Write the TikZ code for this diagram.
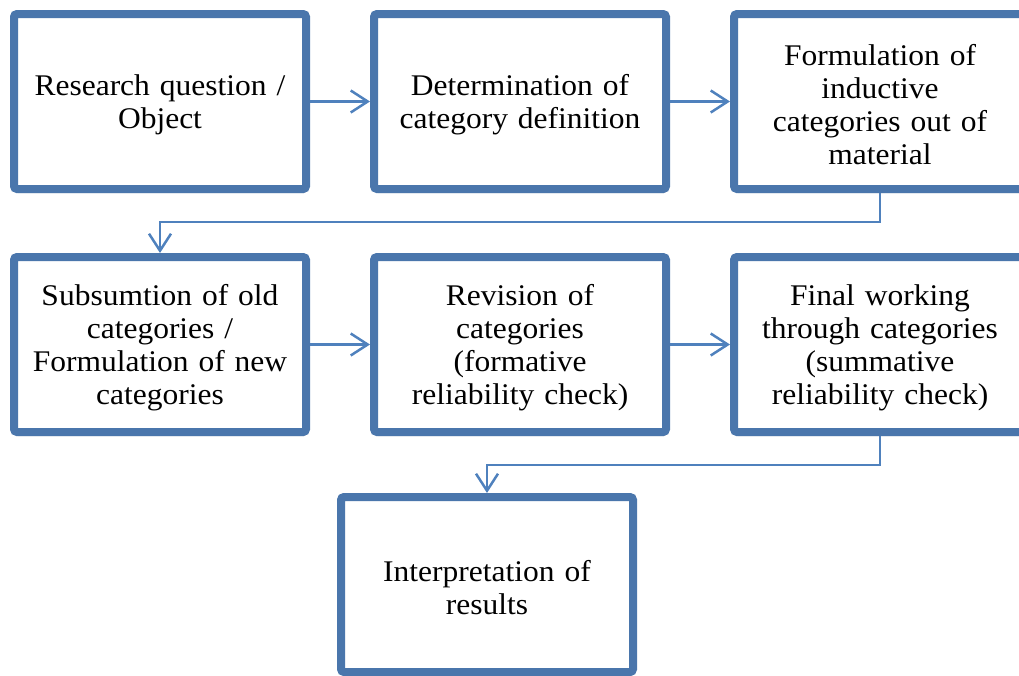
\documentclass[tikz,border=0pt]{standalone}
\usepackage{fontspec}
\setmainfont[FakeStretch=1.05,WordSpace=0.8]{Liberation Serif}
\usetikzlibrary{arrows.meta,shadows}
\definecolor{boxblue}{RGB}{74,118,172}
\definecolor{linkblue}{RGB}{79,129,189}

\tikzset{
  stepbox/.style={draw=boxblue, line width=8pt, fill=white, rounded corners=3pt,
    minimum width=292pt, minimum height=175pt, text width=276pt, align=center,
    font=\fontsize{30}{33}\selectfont,
    execute at begin node={\parindent=0pt\leavevmode\rule{0pt}{27pt}},
    drop shadow={shadow xshift=1pt, shadow yshift=-4pt, opacity=0.35, fill=black!60}},
  link/.style={draw=linkblue, line width=2.5pt,
    -{Straight Barb[length=17pt,width=22pt,line width=2.5pt]}}
}

\begin{document}
\begin{tikzpicture}[x=1pt,y=-1pt]
  \useasboundingbox (0,0) rectangle (1019,675); %Fix picture size

  \node[stepbox] (question) at (160,101.5) {Research question /\\Object}; %First row
  \node[stepbox] (definition) at (520,101.5) {Determination of\\category definition};
  \node[stepbox] (inductive) at (880,101.5) {Formulation of\\inductive\\categories out of\\material};

  \node[stepbox] (subsumtion) at (160,344.5) {Subsumtion of old\\categories /\\Formulation of new\\categories}; %Second row
  \node[stepbox] (revision) at (520,344.5) {Revision of\\categories\\(formative\\reliability check)};
  \node[stepbox] (final) at (880,344.5) {Final working\\through categories\\(summative\\reliability check)};

  \node[stepbox] (results) at (487,584.5) {Interpretation of\\results}; %Third row

  \coordinate (turnA) at (880,222); %Bend between rows 1 and 2
  \coordinate (turnB) at (160,222);
  \coordinate (turnC) at (880,465); %Bend between rows 2 and 3
  \coordinate (turnD) at (487,465);

  \draw[link] (question) -- (definition); %Row 1 arrows
  \draw[link] (definition) -- (inductive);
  \draw[link] (inductive) -- (turnA) -- (turnB) -- (subsumtion); %Down to row 2
  \draw[link] (subsumtion) -- (revision); %Row 2 arrows
  \draw[link] (revision) -- (final);
  \draw[link] (final) -- (turnC) -- (turnD) -- (results); %Down to row 3
\end{tikzpicture}
\end{document}
